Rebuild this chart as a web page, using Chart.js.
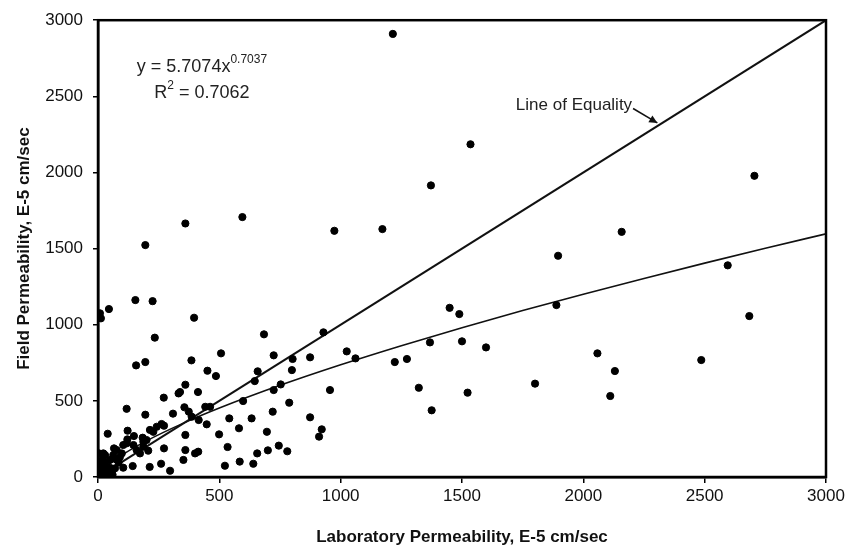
<!DOCTYPE html>
<html>
<head>
<meta charset="utf-8">
<script src="https://cdn.jsdelivr.net/npm/chart.js@4.4.1/dist/chart.umd.min.js"></script>
<style>
  html, body { margin: 0; padding: 0; background: #fff; }
  #wrap { width: 848px; height: 552px; }
</style>
</head>
<body>
<div id="wrap"><canvas id="perm-chart"></canvas></div>
<script>
// Laboratory vs field permeability, E-5 cm/sec
const labPerm = [
  1215, 1535, 1372, 1172, 1896, 2705, 2158, 2595, 1889, 2684,
  1599, 2058, 2130, 2111, 1801, 2486, 929, 874, 1025, 1061,
  956, 874, 922, 911, 1223, 1273, 1368, 1449, 1489, 1500,
  1322, 1375, 1523, 195, 360, 595, 974,
  8, 12, 45, 154, 225, 396, 234, 157, 195, 385,
  684, 507, 724, 802, 451, 486, 658, 799, 646, 724,
  753, 360, 332, 338, 412, 271, 598, 788, 118, 195,
  309, 356, 442, 462, 374, 386, 415, 448, 541, 581,
  633, 720, 696, 499, 534, 745, 700, 780, 656, 584,
  523, 640, 360, 360, 352, 400, 413, 272, 260, 297,
  213, 143, 104, 122, 40, 66, 104, 118, 148, 146,
  187, 200, 214, 228, 242, 262, 272, 159, 173, 187,
  207, 121, 184, 77, 98, 63, 49, 29, 25, 15,
  8, 36, 56, 70, 4, 22, 17, 3, 10, 18,
  5, 28, 40, 12, 2, 45, 60, 32, 85, 90,
  50, 75
];
const fieldPerm = [
  2910, 2185, 1915, 1628, 1453, 1978, 1610, 1390, 1129, 1057,
  851, 812, 696, 532, 613, 768, 950, 786, 825, 779,
  571, 392, 313, 265, 755, 775, 884, 1111, 1070, 891,
  586, 438, 554, 1523, 1665, 1707, 1617,
  1075, 1042, 1103, 1162, 1155, 1046, 915, 733, 755, 766,
  937, 812, 799, 775, 698, 663, 694, 702, 630, 571,
  608, 606, 549, 558, 558, 521, 499, 488, 448, 409,
  416, 458, 461, 461, 429, 396, 374, 346, 385, 320,
  385, 429, 297, 280, 197, 206, 175, 169, 155, 101,
  74, 87, 276, 177, 112, 155, 166, 188, 87, 41,
  66, 72, 61, 304, 284, 188, 210, 221, 269, 210,
  232, 243, 309, 297, 330, 348, 337, 177, 155, 199,
  173, 247, 258, 177, 155, 144, 112, 144, 100, 68,
  35, 46, 35, 57, 155, 155, 112, 10, 5, 22,
  30, 12, 8, 55, 80, 25, 15, 75, 95, 130,
  60, 115
];

// power trendline y = 5.7074x^0.7037 (R² = 0.7062)
const fitCoef = 5.7074;
const fitExp = 0.7037;
const trendX = [10, 25, 50, 100, 200, 350, 500, 750, 1000, 1250, 1500, 1750, 2000, 2250, 2500, 2750, 3000];
const equalityX = [0, 3000];

const axisTicks = [0, 500, 1000, 1500, 2000, 2500, 3000];

const points = labPerm.map((x, i) => ({ x: x, y: fieldPerm[i] }));
const trendPts = trendX.map(x => ({ x: x, y: fitCoef * Math.pow(x, fitExp) }));
const equalityPts = equalityX.map(x => ({ x: x, y: x }));

Chart.defaults.font.family = '"Liberation Sans", Arial, sans-serif';
Chart.defaults.color = '#111';

// frame round the plot plus the equation and line-of-equality notes
const notes = {
  id: 'notes',
  afterDraw(chart) {
    const ctx = chart.ctx;
    const a = chart.chartArea;
    const xs = chart.scales.x, ys = chart.scales.y;
    ctx.save();
    ctx.strokeStyle = '#000';
    ctx.lineWidth = 2.5;
    ctx.strokeRect(a.left, a.top, a.right - a.left, a.bottom - a.top);

    ctx.fillStyle = '#222';
    ctx.textBaseline = 'middle';
    ctx.textAlign = 'left';
    // trendline equation
    let ex = xs.getPixelForValue(160), ey = ys.getPixelForValue(2690);
    ctx.font = '18px "Liberation Sans", Arial, sans-serif';
    const base = 'y = 5.7074x';
    ctx.fillText(base, ex, ey);
    let w = ctx.measureText(base).width;
    ctx.font = '12px "Liberation Sans", Arial, sans-serif';
    ctx.fillText('0.7037', ex + w, ey - 8);

    let rx = xs.getPixelForValue(232), ry = ys.getPixelForValue(2520);
    ctx.font = '18px "Liberation Sans", Arial, sans-serif';
    ctx.fillText('R', rx, ry);
    w = ctx.measureText('R').width;
    ctx.font = '12px "Liberation Sans", Arial, sans-serif';
    ctx.fillText('2', rx + w, ry - 8);
    const w2 = ctx.measureText('2').width;
    ctx.font = '18px "Liberation Sans", Arial, sans-serif';
    ctx.fillText(' = 0.7062', rx + w + w2, ry);

    // line of equality label with arrow
    ctx.font = '17px "Liberation Sans", Arial, sans-serif';
    ctx.fillText('Line of Equality', xs.getPixelForValue(1722), ys.getPixelForValue(2440));
    const x1 = xs.getPixelForValue(2205), y1 = ys.getPixelForValue(2420);
    const x2 = xs.getPixelForValue(2305), y2 = ys.getPixelForValue(2325);
    ctx.strokeStyle = '#111';
    ctx.lineWidth = 1.5;
    ctx.beginPath();
    ctx.moveTo(x1, y1);
    ctx.lineTo(x2, y2);
    ctx.stroke();
    const ang = Math.atan2(y2 - y1, x2 - x1);
    ctx.beginPath();
    ctx.moveTo(x2, y2);
    ctx.lineTo(x2 - 9 * Math.cos(ang - 0.45), y2 - 9 * Math.sin(ang - 0.45));
    ctx.lineTo(x2 - 9 * Math.cos(ang + 0.45), y2 - 9 * Math.sin(ang + 0.45));
    ctx.closePath();
    ctx.fillStyle = '#111';
    ctx.fill();
    ctx.restore();
  }
};

function axisOpts(title, isX) {
  return {
    type: 'linear',
    min: 0,
    max: 3000,
    afterBuildTicks(scale) {
      scale.ticks = axisTicks.map(v => ({ value: v }));
    },
    afterFit(scale) {
      if (isX) scale.height = 75;
      else scale.width = 98;
    },
    grid: { drawOnChartArea: false, drawTicks: true, tickLength: isX ? 6 : 5, color: '#000', lineWidth: 1.5 },
    border: { display: true, color: '#000', width: 2.5 },
    ticks: {
      padding: isX ? 3 : 10,
      font: { size: 17 },
      color: '#111',
      maxRotation: 0,
      callback: v => String(v)
    },
    title: {
      display: true,
      text: title,
      font: { size: 17, weight: 'bold' },
      color: '#111',
      padding: isX ? { top: 0, bottom: 4 } : { top: 14, bottom: 0 }
    }
  };
}

new Chart(document.getElementById('perm-chart'), {
  type: 'scatter',
  data: {
    datasets: [
      {
        label: 'Measured',
        data: points,
        backgroundColor: '#000',
        borderColor: '#000',
        pointRadius: 3.6,
        pointHoverRadius: 3.6,
        order: 1
      },
      {
        label: 'Line of Equality',
        data: equalityPts,
        showLine: true,
        borderColor: '#111',
        borderWidth: 2,
        pointRadius: 0,
        order: 2
      },
      {
        label: 'Power fit',
        data: trendPts,
        showLine: true,
        borderColor: '#111',
        borderWidth: 1.6,
        pointRadius: 0,
        cubicInterpolationMode: 'monotone',
        order: 3
      }
    ]
  },
  options: {
    responsive: true,
    maintainAspectRatio: false,
    animation: false,
    layout: { padding: { top: 20, right: 22, left: 0, bottom: 0 } },
    plugins: {
      legend: { display: false },
      tooltip: { enabled: false }
    },
    scales: {
      x: axisOpts('Laboratory Permeability, E-5 cm/sec', true),
      y: axisOpts('Field Permeability, E-5 cm/sec', false)
    }
  },
  plugins: [notes]
});
</script>
</body>
</html>
